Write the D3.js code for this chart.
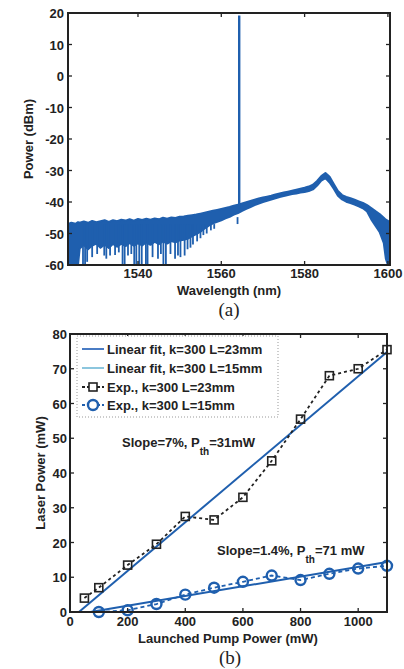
<!DOCTYPE html>
<html>
<head>
<meta charset="utf-8">
<script src="https://cdn.jsdelivr.net/npm/d3@7/dist/d3.min.js"></script>
<style>
  html, body { margin: 0; padding: 0; background: #fff; }
  svg { display: block; }
  text { font-family: "Liberation Sans", Arial, Helvetica, sans-serif; font-weight: bold; fill: #222; }
  .serif { font-family: "Liberation Serif", "Times New Roman", serif; font-weight: normal; }
</style>
</head>
<body>
<script>
// ---------- (a) optical spectrum ----------
const specWl = [1523.2,1524,1525,1525.6,1526,1527,1528,1529,1530,1531,1532,1533,1534,1535,1536,1537,1538,1539,1540,
  1541,1542,1543,1544,1545,1546,1547,1548,1549,1550,1551,1552,1553,1554,1555,1556,1557,1558,1559,1560,
  1561,1562,1563,1564,1565,1566,1567,1568,1569,1570,1571,1572,1573,1574,1575,1576,1577,1578,1579,1580,
  1581,1582,1583,1584,1585,1586,1587,1588,1589,1590,1591,1592,1593,1594,1595,1596,1597,1598,1599,1599.5,1600,1600.5];
const specHi = [-47.0,-46.6,-46.9,-46.4,-46.6,-46.2,-46.6,-46.0,-46.4,-46.1,-45.8,-46.3,-45.8,-46.1,-45.6,-45.9,-45.5,-45.9,-45.4,
  -45.7,-45.3,-45.6,-45.2,-45.5,-45.0,-45.3,-44.9,-45.1,-44.7,-44.6,-44.4,-44.2,-44.0,-43.7,-43.4,-43.1,-42.8,-42.5,-42.2,
  -41.9,-41.6,-41.2,-40.9,-40.5,-40.1,-39.7,-39.3,-38.9,-38.6,-38.3,-38.0,-37.6,-37.3,-37.0,-36.7,-36.4,-36.1,-35.8,-35.5,
  -35.1,-34.5,-33.3,-31.8,-30.8,-32.0,-34.3,-36.5,-37.8,-38.4,-38.8,-39.3,-39.8,-40.3,-41.0,-41.9,-42.9,-43.8,-45.0,-45.6,-46.0,-46.5];
const specLo = [-60,-60,-60,-60,-54.8,-53.6,-55.0,-53.8,-53.2,-54.5,-53.5,-54.6,-53.3,-54.2,-53.2,-54.0,-53.0,-53.9,-53.1,
  -53.8,-52.8,-53.6,-52.6,-53.4,-52.5,-53.2,-52.4,-52.8,-52.2,-52.0,-51.6,-50.8,-50.2,-49.4,-48.4,-47.5,-46.8,-46.3,-45.8,
  -45.2,-44.7,-44.0,-43.5,-42.8,-42.2,-41.6,-41.0,-40.5,-40.0,-39.6,-39.2,-38.8,-38.4,-38.1,-37.8,-37.5,-37.3,-37.0,-36.8,
  -36.5,-36.0,-34.8,-33.2,-32.4,-33.8,-35.8,-38.0,-39.2,-39.9,-40.3,-40.8,-41.4,-42.0,-43.0,-45.5,-47.5,-49.5,-53.0,-58.0,-60,-60];
// downward noise spikes: [wavelength, minimum dBm]
const specDips = [[1526.8,-60],[1527.3,-60],[1527.8,-59],[1529.0,-57.5],[1530.2,-56.5],[1531.9,-57],[1532.4,-58],
  [1533.3,-57],[1534.5,-56.8],[1535.4,-56],[1536.3,-60],[1536.8,-60],[1537.6,-57],[1538.4,-56.5],[1539.1,-60],
  [1539.6,-60],[1540.3,-60],[1540.9,-60],[1541.9,-60],[1542.3,-60],[1543.5,-57.5],[1544.8,-58],[1545.5,-56.5],
  [1546.1,-60],[1546.7,-60],[1547.8,-56.5],[1548.9,-58],[1549.6,-57],[1550.2,-57.5],[1551.2,-57],[1551.9,-55],
  [1552.6,-54.5],[1553.2,-53.5],[1554.2,-52.5],[1555.0,-51.5],[1555.7,-50.5],[1556.5,-50],[1557.5,-49],[1558.3,-48.5],[1563.9,-44.8]];
const laserWl = 1564.3, laserPeak = 19.2, laserBase = -42;
const specXTicks = [1540, 1560, 1580, 1600];
const specYTicks = [20, 10, 0, -10, -20, -30, -40, -50, -60];

// ---------- (b) laser power vs pump ----------
const pumpExp = [50,100,200,300,400,500,600,700,800,900,1000,1100];
const power23 = [4,7,13.5,19.5,27.5,26.5,33,43.5,55.5,68,70,75.5];
const pump15 = [100,200,300,400,500,600,700,800,900,1000,1100];
const power15 = [0,0.5,2.3,5,7,8.7,10.5,9.2,11,12.5,13.3];
const fits = [ {slope: 0.07, pth: 31, xmax: 1100}, {slope: 0.014, pth: 71, xmax: 1100} ];
const legendLabels = ["Linear fit, k=300 L=23mm","Linear fit, k=300 L=15mm","Exp., k=300 L=23mm","Exp., k=300 L=15mm"];
const pumpTicks = [0,200,400,600,800,1000];
const powerTicks = [0,10,20,30,40,50,60,70,80];

const BLUE = "#1f5fae";
const AXIS = "#222";
const FS = 13;

const svg = d3.select("body").append("svg").attr("width", 404).attr("height", 669);

function frame(g, x, y, xTicks, yTicks) {
  const [x0, x1] = x.range(), [y0, y1] = y.range();
  const tl = 4;
  const t = g.append("g").attr("stroke", AXIS).attr("stroke-width", 1.3);
  xTicks.forEach(v => {
    t.append("line").attr("x1", x(v)).attr("x2", x(v)).attr("y1", y0).attr("y2", y0 - tl);
    t.append("line").attr("x1", x(v)).attr("x2", x(v)).attr("y1", y1).attr("y2", y1 + tl);
  });
  yTicks.forEach(v => {
    t.append("line").attr("x1", x0).attr("x2", x0 + tl).attr("y1", y(v)).attr("y2", y(v));
    t.append("line").attr("x1", x1).attr("x2", x1 - tl).attr("y1", y(v)).attr("y2", y(v));
  });
  g.append("rect").attr("x", x0).attr("y", y1).attr("width", x1 - x0).attr("height", y0 - y1)
    .attr("fill", "none").attr("stroke", AXIS).attr("stroke-width", 2);
}

// ----- panel (a) -----
{
  const x = d3.scaleLinear().domain([1523.2, 1600.5]).range([68, 390]);
  const y = d3.scaleLinear().domain([-60, 20]).range([265, 13]);
  const g = svg.append("g");
  g.append("clipPath").attr("id", "clipA").append("rect")
    .attr("x", 68).attr("y", 13).attr("width", 322).attr("height", 252);
  const data = specWl.map((w, i) => ({w, hi: specHi[i], lo: specLo[i]}));
  const plot = g.append("g").attr("clip-path", "url(#clipA)");
  plot.append("path").datum(data)
    .attr("d", d3.area().x(d => x(d.w)).y0(d => y(d.lo)).y1(d => y(d.hi)))
    .attr("fill", BLUE).attr("stroke", BLUE).attr("stroke-width", 2).attr("stroke-linejoin", "round");
  plot.selectAll("line.dip").data(specDips).join("line").attr("class", "dip")
    .attr("x1", d => x(d[0])).attr("x2", d => x(d[0]))
    .attr("y1", y(-47)).attr("y2", d => y(d[1]))
    .attr("stroke", BLUE).attr("stroke-width", 1.8);
  plot.append("line").attr("x1", x(laserWl)).attr("x2", x(laserWl))
    .attr("y1", y(laserBase)).attr("y2", y(laserPeak))
    .attr("stroke", BLUE).attr("stroke-width", 2.4);
  frame(g, x, y, specXTicks, specYTicks);
  g.selectAll("text.yt").data(specYTicks).join("text").attr("class", "yt")
    .attr("x", 64).attr("y", d => y(d) + 5).attr("text-anchor", "end").attr("font-size", FS)
    .text(d => d);
  g.selectAll("text.xt").data(specXTicks).join("text").attr("class", "xt")
    .attr("x", d => x(d)).attr("y", 278).attr("text-anchor", "middle").attr("font-size", FS)
    .text(d => d);
  g.append("text").attr("x", 229).attr("y", 295).attr("text-anchor", "middle").attr("font-size", FS)
    .text("Wavelength (nm)");
  g.append("text").attr("transform", "translate(33,139) rotate(-90)").attr("text-anchor", "middle")
    .attr("font-size", FS).text("Power (dBm)");
  g.append("text").attr("class", "serif").attr("x", 229).attr("y", 316).attr("text-anchor", "middle")
    .attr("font-size", 19).text("(a)");
}

// ----- panel (b) -----
{
  const x = d3.scaleLinear().domain([0, 1100]).range([70, 387]);
  const y = d3.scaleLinear().domain([0, 80]).range([612, 334]);
  const g = svg.append("g");
  g.append("clipPath").attr("id", "clipB").append("rect")
    .attr("x", 60).attr("y", 334).attr("width", 337).attr("height", 288);
  const plot = g.append("g").attr("clip-path", "url(#clipB)");
  const line = d3.line().x(d => x(d[0])).y(d => y(d[1]));

  // linear fits
  fits.forEach(f => {
    plot.append("path").datum([[f.pth, 0], [f.xmax, f.slope * (f.xmax - f.pth)]])
      .attr("d", line).attr("fill", "none").attr("stroke", BLUE).attr("stroke-width", 2);
  });
  // measured, L = 23 mm
  const d23 = pumpExp.map((p, i) => [p, power23[i]]);
  plot.append("path").datum(d23).attr("d", line).attr("fill", "none")
    .attr("stroke", "#222").attr("stroke-width", 1.8).attr("stroke-dasharray", "3,3");
  plot.selectAll("rect.sq").data(d23).join("rect").attr("class", "sq")
    .attr("x", d => x(d[0]) - 4).attr("y", d => y(d[1]) - 4).attr("width", 8).attr("height", 8)
    .attr("fill", "none").attr("stroke", "#222").attr("stroke-width", 1.6);
  // measured, L = 15 mm
  const d15 = pump15.map((p, i) => [p, power15[i]]);
  plot.append("path").datum(d15).attr("d", line).attr("fill", "none")
    .attr("stroke", BLUE).attr("stroke-width", 1.8).attr("stroke-dasharray", "4,3");
  plot.selectAll("circle.ci").data(d15).join("circle").attr("class", "ci")
    .attr("cx", d => x(d[0])).attr("cy", d => y(d[1])).attr("r", 5)
    .attr("fill", "none").attr("stroke", BLUE).attr("stroke-width", 2.4);

  frame(g, x, y, pumpTicks, powerTicks);
  g.selectAll("text.yt").data(powerTicks).join("text").attr("class", "yt")
    .attr("x", 67).attr("y", d => y(d) + 5).attr("text-anchor", "end").attr("font-size", FS)
    .text(d => d);
  g.selectAll("text.xt").data(pumpTicks).join("text").attr("class", "xt")
    .attr("x", d => x(d)).attr("y", 626).attr("text-anchor", "middle").attr("font-size", FS)
    .text(d => d);
  g.append("text").attr("x", 228).attr("y", 643).attr("text-anchor", "middle").attr("font-size", FS)
    .text("Launched Pump Power (mW)");
  g.append("text").attr("transform", "translate(45,473) rotate(-90)").attr("text-anchor", "middle")
    .attr("font-size", FS).text("Laser Power (mW)");
  g.append("text").attr("class", "serif").attr("x", 230).attr("y", 664).attr("text-anchor", "middle")
    .attr("font-size", 19).text("(b)");

  // annotations
  const a1 = g.append("text").attr("x", 122).attr("y", 447).attr("font-size", FS);
  a1.append("tspan").text("Slope=7%, P");
  a1.append("tspan").attr("dy", 8).attr("font-size", 10).text("th");
  a1.append("tspan").attr("dy", -8).text("=31mW");
  const a2 = g.append("text").attr("x", 217).attr("y", 555).attr("font-size", FS);
  a2.append("tspan").text("Slope=1.4%, P");
  a2.append("tspan").attr("dy", 8).attr("font-size", 10).text("th");
  a2.append("tspan").attr("dy", -8).text("=71 mW");

  // legend
  const lg = g.append("g");
  lg.append("rect").attr("x", 77).attr("y", 336).attr("width", 201).attr("height", 81)
    .attr("fill", "#fff").attr("stroke", "#999").attr("stroke-width", 1).attr("stroke-dasharray", "1,2");
  const rows = [349, 368, 387, 405];
  const styles = [
    {stroke: "#4a7cc4", dash: null, marker: null},
    {stroke: "#8cc6de", dash: null, marker: null},
    {stroke: "#222", dash: "3,2", marker: "sq"},
    {stroke: BLUE, dash: "3,2", marker: "ci"}
  ];
  legendLabels.forEach((lab, i) => {
    const s = styles[i], yy = rows[i];
    lg.append("line").attr("x1", 82).attr("x2", 104).attr("y1", yy).attr("y2", yy)
      .attr("stroke", s.stroke).attr("stroke-width", 2).attr("stroke-dasharray", s.dash);
    if (s.marker === "sq") {
      lg.append("rect").attr("x", 89).attr("y", yy - 4).attr("width", 8).attr("height", 8)
        .attr("fill", "#fff").attr("stroke", "#222").attr("stroke-width", 1.6);
    } else if (s.marker === "ci") {
      lg.append("circle").attr("cx", 93).attr("cy", yy).attr("r", 5)
        .attr("fill", "#fff").attr("stroke", BLUE).attr("stroke-width", 2.4);
    }
    lg.append("text").attr("x", 107).attr("y", yy + 5).attr("font-size", FS).text(lab);
  });
}
</script>
</body>
</html>
